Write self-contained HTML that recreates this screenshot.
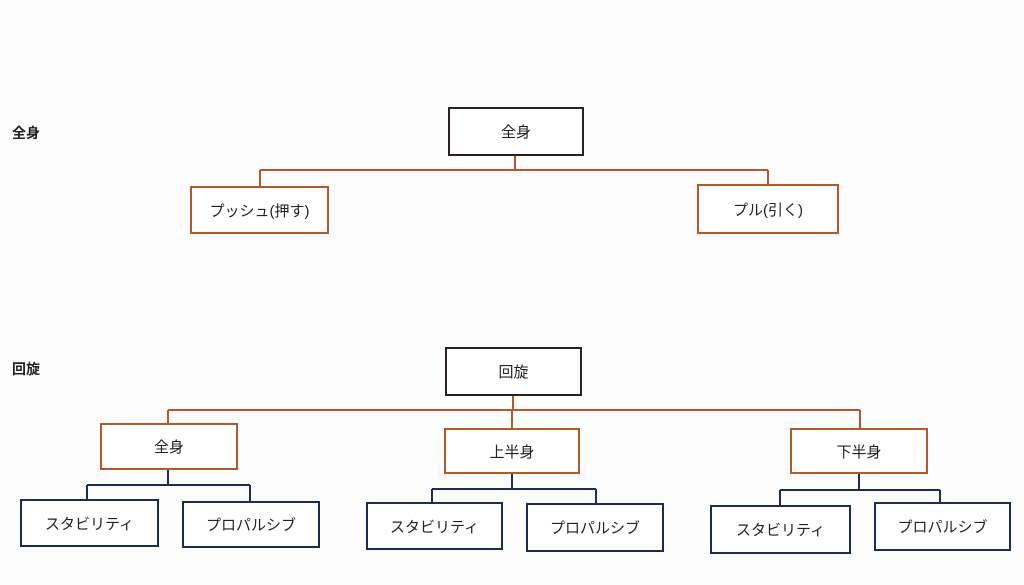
<!DOCTYPE html>
<html><head><meta charset="utf-8"><style>
html,body{margin:0;padding:0;background:#fcfcfc;}
body{width:1024px;height:585px;position:relative;overflow:hidden;font-family:"Liberation Sans","Noto Sans CJK JP",sans-serif;}
.b{position:absolute;box-sizing:border-box;background:#fff;display:flex;align-items:center;justify-content:center;font-size:15px;color:#222;}
.k{border:2px solid #2a2026;}
.o{border:2px solid #b5582a;}
.n{border:2px solid #1e2a5a;}
.l{position:absolute;font-size:14px;font-weight:bold;color:#222;}
</style></head><body>
<svg width="1024" height="585" style="position:absolute;left:0;top:0">
<g stroke="#b5582a" stroke-width="2" fill="none">
<path d="M515 156V170M260 170H768M260 170V186M768 170V184"/>
<path d="M513 396V410M168 410H860M168 410V423M512 410V428M860 410V428"/>
</g>
<g stroke="#1e2a5a" stroke-width="2" fill="none">
<path d="M168 470V485M87 485H250M87 485V499M250 485V501"/>
<path d="M512 474V489M432 489H596M432 489V502M596 489V503"/>
<path d="M859 474V490M780 490H940M780 490V505M940 490V502"/>
</g>
</svg>
<div class="l" style="left:12px;top:123px">全身</div>
<div class="l" style="left:12px;top:359px">回旋</div>
<div class="b k" style="left:448px;top:107px;width:136px;height:49px">全身</div>
<div class="b o" style="left:190px;top:186px;width:139px;height:48px">プッシュ(押す)</div>
<div class="b o" style="left:697px;top:184px;width:142px;height:50px">プル(引く)</div>
<div class="b k" style="left:445px;top:347px;width:137px;height:49px">回旋</div>
<div class="b o" style="left:100px;top:423px;width:138px;height:47px">全身</div>
<div class="b o" style="left:444px;top:428px;width:136px;height:46px">上半身</div>
<div class="b o" style="left:790px;top:428px;width:138px;height:46px">下半身</div>
<div class="b n" style="left:20px;top:499px;width:139px;height:48px">スタビリティ</div>
<div class="b n" style="left:182px;top:501px;width:138px;height:47px">プロパルシブ</div>
<div class="b n" style="left:366px;top:502px;width:137px;height:48px">スタビリティ</div>
<div class="b n" style="left:526px;top:503px;width:138px;height:49px">プロパルシブ</div>
<div class="b n" style="left:710px;top:505px;width:141px;height:49px">スタビリティ</div>
<div class="b n" style="left:874px;top:502px;width:137px;height:49px">プロパルシブ</div>
</body></html>
